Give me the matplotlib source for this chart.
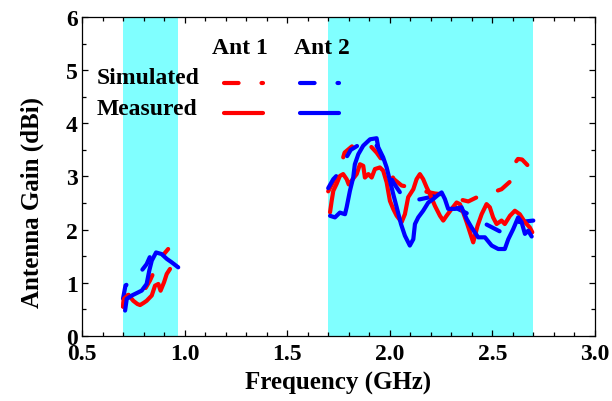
import matplotlib
matplotlib.use("Agg")
import matplotlib.pyplot as plt
from matplotlib.ticker import MultipleLocator, FormatStrFormatter

plt.rcParams.update({
    "font.family": "Liberation Serif",
    "font.weight": "bold",
    "axes.labelweight": "bold",
    "axes.edgecolor": "black",
    "axes.linewidth": 0.9,
})

RED = "#FF0000"
BLUE = "#0000FF"
SHADE = "#80FFFF"

# measurement bands (GHz)
BANDS = [(0.70, 0.97), (1.70, 2.70)]

# ---- Ant 1, simulated (red dashed)
sim1_lo_f = [0.700, 0.705, 0.730, 0.760, 0.791, 0.810, 0.831, 0.850, 0.872, 0.895, 0.920]
sim1_lo_g = [0.55, 0.73, 0.78, 0.72, 0.76, 0.90, 1.04, 1.20, 1.385, 1.52, 1.635]
sim1_hi_f = [1.700, 1.725, 1.750, 1.780, 1.820, 1.855, 1.900, 1.936, 1.960, 1.985, 2.020,
             2.058, 2.120, 2.170, 2.220, 2.290, 2.330, 2.383, 2.420, 2.460, 2.500, 2.545,
             2.600, 2.610, 2.625, 2.645, 2.675, 2.700]
sim1_hi_g = [2.72, 2.90, 3.05, 3.45, 3.58, 3.67, 3.60, 3.45, 3.32, 3.20, 2.95,
             2.83, 2.78, 2.72, 2.68, 2.65, 2.58, 2.53, 2.60, 2.66, 2.70, 2.76,
             2.95, 3.25, 3.33, 3.32, 3.20, 3.15]

# ---- Ant 1, measured (red solid)
meas1_lo_f = [0.700, 0.705, 0.726, 0.750, 0.770, 0.783, 0.800, 0.815, 0.840, 0.856,
              0.872, 0.883, 0.900, 0.913, 0.929]
meas1_lo_g = [0.55, 0.70, 0.77, 0.66, 0.60, 0.58, 0.62, 0.66, 0.76, 0.945,
              0.977, 0.85, 1.01, 1.165, 1.26]
meas1_hi_f = [1.709, 1.717, 1.725, 1.741, 1.757, 1.773, 1.790, 1.800, 1.814, 1.839,
              1.855, 1.871, 1.879, 1.896, 1.912, 1.928, 1.952, 1.968, 1.985, 2.001,
              2.017, 2.034, 2.058, 2.074, 2.090, 2.115, 2.131, 2.147, 2.163, 2.180,
              2.196, 2.220, 2.245, 2.261, 2.277, 2.302, 2.326, 2.342, 2.358, 2.375,
              2.391, 2.407, 2.428, 2.448, 2.472, 2.488, 2.504, 2.521, 2.545, 2.561,
              2.586, 2.610, 2.634, 2.659, 2.683, 2.695]
meas1_hi_g = [2.325, 2.54, 2.73, 2.86, 3.01, 3.045, 2.95, 2.85, 2.92, 3.045,
              3.23, 3.20, 2.98, 3.045, 2.98, 3.14, 3.17, 3.11, 2.89, 2.54,
              2.39, 2.26, 2.14, 2.29, 2.61, 2.76, 2.95, 3.045, 2.95, 2.795,
              2.67, 2.45, 2.26, 2.17, 2.26, 2.39, 2.51, 2.48, 2.325, 2.14,
              1.95, 1.76, 2.07, 2.29, 2.48, 2.42, 2.23, 2.105, 2.17, 2.105,
              2.26, 2.355, 2.29, 2.14, 2.04, 1.95]

# ---- Ant 2, simulated (blue dashed)
sim2_lo_f = [0.700, 0.712, 0.725, 0.742, 0.765, 0.791, 0.815, 0.844, 0.865, 0.883]
sim2_lo_g = [0.70, 0.95, 0.98, 0.99, 1.10, 1.23, 1.35, 1.60, 1.73, 1.86]
sim2_hi_f = [1.700, 1.725, 1.750, 1.780, 1.810, 1.860, 1.900, 1.930, 1.945, 1.965,
             1.985, 2.017, 2.066, 2.100, 2.147, 2.220, 2.300, 2.380, 2.470, 2.545,
             2.600, 2.626, 2.700]
sim2_hi_g = [2.78, 2.95, 3.05, 3.30, 3.50, 3.62, 3.68, 3.62, 3.52, 3.35,
             3.15, 2.89, 2.61, 2.55, 2.57, 2.63, 2.45, 2.30, 2.10, 1.95,
             2.05, 2.14, 2.17]

# ---- Ant 2, measured (blue solid)
meas2_lo_f = [0.710, 0.718, 0.742, 0.791, 0.815, 0.828, 0.840, 0.861, 0.888, 0.913,
              0.937, 0.969]
meas2_lo_g = [0.476, 0.695, 0.758, 0.852, 0.977, 1.23, 1.415, 1.57, 1.54, 1.45,
              1.385, 1.29]
meas2_hi_f = [1.709, 1.733, 1.757, 1.782, 1.790, 1.806, 1.822, 1.830, 1.847, 1.871,
              1.904, 1.936, 1.944, 1.968, 1.985, 2.001, 2.017, 2.034, 2.055, 2.074,
              2.098, 2.115, 2.123, 2.139, 2.163, 2.188, 2.212, 2.235, 2.253, 2.269,
              2.285, 2.318, 2.350, 2.375, 2.399, 2.431, 2.464, 2.497, 2.529, 2.561,
              2.578, 2.602, 2.626, 2.643, 2.659, 2.675, 2.692]
meas2_hi_g = [2.26, 2.23, 2.32, 2.29, 2.42, 2.73, 2.98, 3.23, 3.42, 3.58,
              3.70, 3.72, 3.55, 3.36, 3.17, 2.92, 2.67, 2.42, 2.105, 1.885,
              1.70, 1.82, 2.105, 2.23, 2.355, 2.51, 2.575, 2.65, 2.70, 2.575,
              2.39, 2.39, 2.42, 2.20, 2.04, 1.855, 1.855, 1.70, 1.635, 1.635,
              1.82, 2.01, 2.23, 2.14, 1.92, 1.98, 1.87]

FS_TICK = 17
FS_LABEL = 18
LW = 3.0
DASH = (3.5, 5.5)

fig = plt.figure(figsize=(6.12, 4.02), dpi=100)
ax = fig.add_axes([0.134, 0.162, 0.838, 0.793])

for lo, hi in BANDS:
    ax.axvspan(lo, hi, color=SHADE, lw=0, zorder=0)

line_kw = dict(lw=LW, solid_capstyle="round", dash_capstyle="round", zorder=3)
series = [
    (sim1_lo_f, sim1_lo_g, sim1_hi_f, sim1_hi_g, RED, "dash"),
    (sim2_lo_f, sim2_lo_g, sim2_hi_f, sim2_hi_g, BLUE, "dash"),
    (meas1_lo_f, meas1_lo_g, meas1_hi_f, meas1_hi_g, RED, "solid"),
    (meas2_lo_f, meas2_lo_g, meas2_hi_f, meas2_hi_g, BLUE, "solid"),
]
handles = {}
for f1, g1, f2, g2, col, kind in series:
    ls = (0, DASH) if kind == "dash" else "-"
    h, = ax.plot(f1, g1, color=col, ls=ls, **line_kw)
    ax.plot(f2, g2, color=col, ls=ls, **line_kw)
    handles[(col, kind)] = h

ax.set_xlim(0.5, 3.0)
ax.set_ylim(0, 6)
ax.xaxis.set_major_locator(MultipleLocator(0.5))
ax.xaxis.set_minor_locator(MultipleLocator(0.1))
ax.yaxis.set_major_locator(MultipleLocator(1))
ax.yaxis.set_minor_locator(MultipleLocator(0.5))
ax.xaxis.set_major_formatter(FormatStrFormatter("%.1f"))
ax.tick_params(which="both", direction="in", top=True, right=True,
               width=0.9, labelsize=FS_TICK)
ax.tick_params(which="major", length=4.5)
ax.tick_params(which="minor", length=3)
ax.tick_params(axis="x", pad=5)
ax.tick_params(axis="y", pad=3)

ax.set_xlabel("Frequency (GHz)", fontsize=FS_LABEL, labelpad=5)
ax.set_ylabel("Antenna Gain (dBi)", fontsize=FS_LABEL)
ax.yaxis.set_label_coords(-0.074, 0.42)

# legend: 2x2 grid of keys, row/column captions as text
leg = ax.legend([handles[(RED, "dash")], handles[(RED, "solid")],
                 handles[(BLUE, "dash")], handles[(BLUE, "solid")]],
                ["", "", "", ""], ncol=2, frameon=False, fontsize=FS_TICK,
                loc="upper left", bbox_to_anchor=(0.277, 0.818),
                borderpad=0, borderaxespad=0, handlelength=1.65,
                handletextpad=0, columnspacing=1.55, labelspacing=0.33)
ax.text(0.308, 0.906, "Ant 1", transform=ax.transAxes, ha="center", va="center",
        fontsize=FS_TICK)
ax.text(0.468, 0.906, "Ant 2", transform=ax.transAxes, ha="center", va="center",
        fontsize=FS_TICK)
ax.text(0.029, 0.812, "Simulated", transform=ax.transAxes, ha="left", va="center",
        fontsize=FS_TICK)
ax.text(0.029, 0.712, "Measured", transform=ax.transAxes, ha="left", va="center",
        fontsize=FS_TICK)

fig.savefig("out.png", dpi=100)
